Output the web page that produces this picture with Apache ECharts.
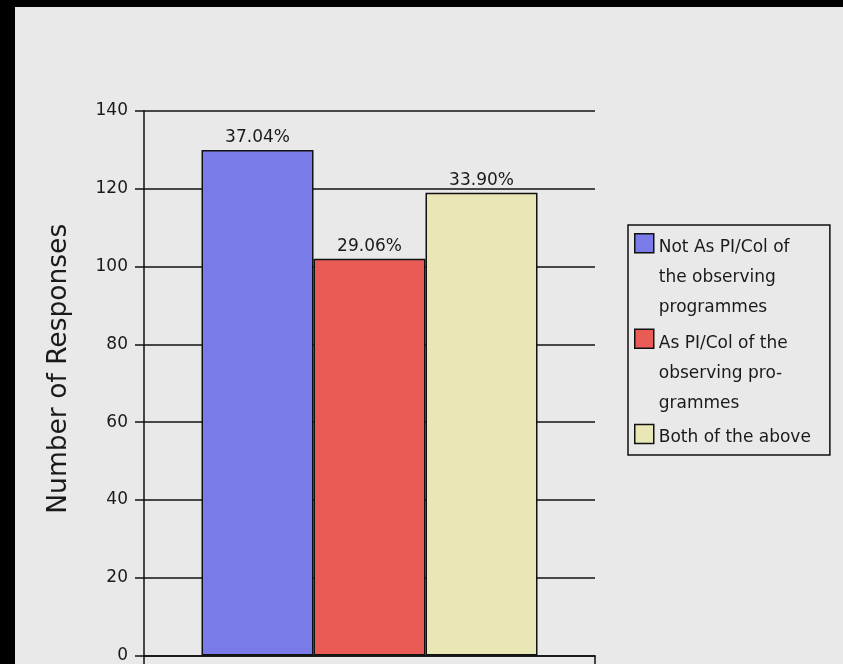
<!DOCTYPE html>
<html>
<head>
<meta charset="utf-8">
<script src="https://cdn.jsdelivr.net/npm/echarts@6.0.0/dist/echarts.min.js"></script>
<style>
  html, body { margin: 0; padding: 0; background: #000; }
  #bar { position: absolute; left: 15px; top: 7px; width: 828px; height: 657px; background: #e9e9e9; }
</style>
</head>
<body>
<div id="bar"></div>
<script>
var categories = [''];
var seriesNames = [
    'Not As PI/Col of the observing programmes',
    'As PI/Col of the observing programmes',
    'Both of the above'
];
var legendLabels = [
    'Not As PI/Col of\nthe observing\nprogrammes',
    'As PI/Col of the\nobserving pro-\ngrammes',
    'Both of the above'
];
var responses = [130, 102, 119];
var colors = ['#797ce8', '#e95c56', '#e8e7b5'];
var yTicks = [0, 20, 40, 60, 80, 100, 120, 140];

var total = responses.reduce(function (a, b) { return a + b; }, 0);
var font = 'DejaVu Sans';
var ink = '#1a1a1a';

// square sits at the top of a 3-line tall icon box so it lines up with the first text line
var tallIcon = 'path://M0,0M19,90M0,1h19v19h-19z';
var shortIcon = 'path://M0,0M19,27M0,0h19v19h-19z';

var chart = echarts.init(document.getElementById('bar'), null, {renderer: 'canvas'});

var series = seriesNames.map(function (name, i) {
    var data = categories.map(function () { return responses[i]; });
    return {
        name: name,
        type: 'bar',
        data: data,
        barWidth: 112,
        barGap: '0%',
        itemStyle: {color: colors[i], borderColor: '#111', borderWidth: 1.5},
        label: {
            show: true,
            position: 'top',
            distance: 4,
            color: ink,
            fontFamily: font,
            fontSize: 17,
            formatter: function (p) {
                return (p.value / total * 100).toFixed(2) + '%';
            }
        }
    };
});

chart.setOption({
    animation: false,
    backgroundColor: '#e9e9e9',
    grid: {left: 129, right: 248, top: 104, bottom: 5, containLabel: false},
    legend: {
        orient: 'vertical',
        left: 613,
        top: 218,
        padding: [7, 19, 2, 6],
        borderColor: '#111',
        borderWidth: 1.5,
        itemWidth: 19,
        itemHeight: 90,
        itemGap: 4,
        selectedMode: false,
        itemStyle: {borderColor: '#111', borderWidth: 1.5},
        textStyle: {color: ink, fontFamily: font, fontSize: 17, lineHeight: 30},
        data: seriesNames.map(function (n, i) {
            return {name: n, icon: i < 2 ? tallIcon : shortIcon};
        }),
        formatter: function (name) {
            return legendLabels[seriesNames.indexOf(name)];
        }
    },
    xAxis: {
        type: 'category',
        data: categories,
        axisLine: {lineStyle: {color: '#111', width: 1.5}},
        axisTick: {show: true, length: 10, lineStyle: {color: '#111', width: 1.5}},
        axisLabel: {show: false},
        splitLine: {show: false}
    },
    yAxis: {
        type: 'value',
        min: yTicks[0],
        max: yTicks[yTicks.length - 1],
        interval: 20,
        name: 'Number of Responses',
        nameLocation: 'middle',
        nameRotate: 90,
        nameGap: 71,
        nameTextStyle: {color: ink, fontFamily: font, fontSize: 26.5, padding: [0, 0, 0, 29]},
        axisLine: {show: true, lineStyle: {color: '#111', width: 1.5}},
        axisTick: {show: true, length: 9, lineStyle: {color: '#111', width: 1.5}},
        axisLabel: {color: ink, fontFamily: font, fontSize: 17, margin: 16},
        splitLine: {show: true, lineStyle: {color: '#111', width: 1.5}}
    },
    series: series
});
</script>
</body>
</html>
